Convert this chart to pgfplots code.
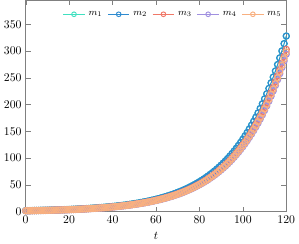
\documentclass[border=0pt]{standalone}
\usepackage{pgfplots}
\usepackage{pgfplotstable}
\pgfplotsset{compat=1.18}
\definecolor{cA}{HTML}{40E0C0}
\definecolor{cB}{HTML}{2E8BD0}
\definecolor{cC}{HTML}{F07868}
\definecolor{cD}{HTML}{A090E0}
\definecolor{cE}{HTML}{F8B080}
\pgfplotstableread{
t m12 m3 m4 m5
0 1.60 1.48 1.44 1.46
1 1.67 1.54 1.50 1.52
2 1.75 1.62 1.57 1.59
3 1.83 1.69 1.64 1.66
4 1.91 1.77 1.71 1.74
5 2.00 1.85 1.79 1.82
6 2.09 1.93 1.87 1.90
7 2.18 2.02 1.96 1.99
8 2.28 2.11 2.05 2.08
9 2.39 2.20 2.14 2.17
10 2.49 2.30 2.24 2.27
11 2.61 2.41 2.34 2.37
12 2.72 2.52 2.44 2.48
13 2.85 2.63 2.55 2.59
14 2.98 2.75 2.67 2.71
15 3.11 2.88 2.79 2.83
16 3.25 3.01 2.92 2.96
17 3.40 3.14 3.05 3.10
18 3.56 3.29 3.19 3.24
19 3.72 3.43 3.33 3.38
20 3.89 3.59 3.49 3.54
21 4.06 3.75 3.64 3.70
22 4.25 3.92 3.81 3.86
23 4.44 4.10 3.98 4.04
24 4.64 4.29 4.16 4.22
25 4.85 4.48 4.35 4.41
26 5.07 4.68 4.55 4.61
27 5.30 4.90 4.75 4.82
28 5.54 5.12 4.97 5.04
29 5.79 5.35 5.20 5.27
30 6.06 5.59 5.43 5.51
31 6.33 5.85 5.68 5.76
32 6.62 6.11 5.93 6.02
33 6.92 6.39 6.20 6.29
34 7.23 6.68 6.49 6.58
35 7.56 6.98 6.78 6.88
36 7.90 7.30 7.09 7.19
37 8.26 7.63 7.41 7.52
38 8.63 7.98 7.74 7.86
39 9.03 8.34 8.10 8.21
40 9.44 8.72 8.46 8.59
41 9.86 9.11 8.85 8.98
42 10.31 9.53 9.25 9.38
43 10.78 9.96 9.67 9.81
44 11.27 10.41 10.11 10.25
45 11.78 10.88 10.57 10.72
46 12.31 11.38 11.04 11.20
47 12.87 11.89 11.54 11.71
48 13.45 12.43 12.07 12.24
49 14.06 12.99 12.62 12.80
50 14.70 13.59 13.19 13.38
51 15.37 14.20 13.79 13.99
52 16.07 14.85 14.41 14.62
53 16.80 15.52 15.07 15.28
54 17.56 16.22 15.75 15.98
55 18.35 16.96 16.46 16.70
56 19.19 17.73 17.21 17.46
57 20.06 18.53 17.99 18.25
58 20.97 19.37 18.81 19.08
59 21.92 20.25 19.66 19.94
60 22.91 21.17 20.55 20.85
61 23.95 22.13 21.48 21.79
62 25.04 23.13 22.46 22.78
63 26.17 24.18 23.48 23.82
64 27.36 25.28 24.54 24.90
65 28.60 26.43 25.65 26.03
66 29.90 27.63 26.82 27.21
67 31.25 28.88 28.03 28.44
68 32.67 30.19 29.31 29.73
69 34.15 31.56 30.64 31.08
70 35.70 32.99 32.03 32.49
71 37.32 34.48 33.48 33.96
72 39.02 36.05 35.00 35.50
73 40.78 37.68 36.58 37.11
74 42.64 39.39 38.24 38.80
75 44.57 41.18 39.98 40.56
76 46.59 43.05 41.79 42.40
77 48.70 45.00 43.68 44.32
78 50.91 47.04 45.67 46.33
79 53.22 49.18 47.74 48.43
80 55.64 51.41 49.91 50.63
81 58.16 53.74 52.17 52.93
82 60.80 56.18 54.54 55.33
83 63.56 58.73 57.01 57.84
84 66.44 61.39 59.60 60.46
85 69.45 64.17 62.30 63.20
86 72.60 67.08 65.12 66.07
87 75.90 70.13 68.08 69.07
88 79.34 73.31 71.17 72.20
89 82.94 76.64 74.40 75.47
90 86.70 80.11 77.77 78.90
91 90.63 83.74 81.30 82.47
92 94.74 87.54 84.98 86.21
93 99.04 91.51 88.84 90.13
94 103.53 95.66 92.87 94.21
95 108.23 100.00 97.08 98.49
96 113.13 104.53 101.48 102.95
97 118.26 109.27 106.08 107.62
98 123.63 114.23 110.90 112.50
99 129.24 119.42 115.93 117.61
100 135.10 124.83 121.18 122.94
101 141.23 130.50 126.68 128.52
102 147.63 136.41 132.42 134.34
103 154.33 142.60 138.43 140.44
104 161.33 149.07 144.71 146.81
105 168.65 155.83 151.28 153.47
106 176.30 162.90 158.14 160.43
107 184.30 170.29 165.32 167.71
108 192.65 178.01 172.81 175.31
109 201.39 186.08 180.65 183.26
110 210.53 194.53 188.85 191.58
111 220.08 203.35 197.41 200.27
112 230.06 212.58 206.36 209.35
113 240.50 222.22 215.73 218.86
114 251.40 232.29 225.51 228.77
115 262.80 242.83 235.73 239.15
116 274.72 253.84 246.42 250.00
117 287.18 265.35 257.60 261.33
118 300.21 277.39 269.29 273.19
119 313.83 289.98 281.50 285.59
120 328.06 303.13 294.27 298.53
}\data
\begin{document}
\begin{tikzpicture}
\begin{axis}[
  scale only axis,
  width=222pt, height=180pt,
  xmin=0, xmax=120, ymin=0, ymax=395,
  xtick={0,20,...,120},
  ytick={0,50,...,350},
  axis line style={gray},
  tick style={gray},
  tick align=inside,
  xlabel={$t$},
  xlabel style={yshift=-1pt},
  tick label style={font=\normalsize},
  clip=false,
  legend columns=5,
  legend style={at={(0.995,0.965)}, anchor=north east, draw=none, fill=none,
    font=\footnotesize, inner sep=1pt,
    /tikz/every odd column/.append style={column sep=1pt},
    /tikz/every even column/.append style={column sep=2.5pt}},
  legend image code/.code={%
    \draw[mark repeat=2,mark phase=2,mark size=2pt,mark options={line width=0.8pt}]
      plot coordinates {(0cm,0cm) (0.32cm,0cm) (0.64cm,0cm)};},
  every axis plot/.append style={mark=o, line width=0.7pt, mark size=2.6pt,
    mark options={line width=1pt}},
]
\addplot[color=cA] table[x=t,y=m12]{\data};
\addlegendentry{$m_1$}
\addplot[color=cB] table[x=t,y=m12]{\data};
\addlegendentry{$m_2$}
\addplot[color=cC] table[x=t,y=m3]{\data};
\addlegendentry{$m_3$}
\addplot[color=cD] table[x=t,y=m4]{\data};
\addlegendentry{$m_4$}
\addplot[color=cE] table[x=t,y=m5]{\data};
\addlegendentry{$m_5$}
\end{axis}
\end{tikzpicture}
\end{document}
